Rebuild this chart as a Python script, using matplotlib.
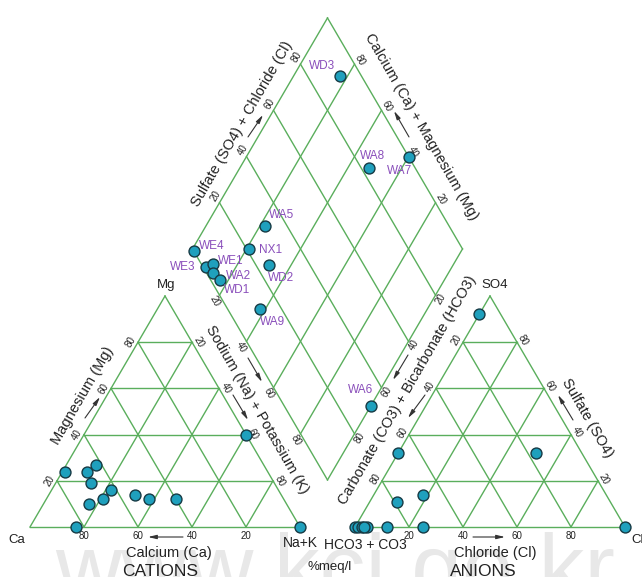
import numpy as np
import matplotlib.pyplot as plt

plt.rcParams['font.family'] = ['Liberation Sans', 'DejaVu Sans']

# sample chemistry, % meq/l
samples = ['WE4', 'WE3', 'WE1', 'WA2', 'WD1', 'NX1', 'WA5',
           'WD2', 'WA9', 'WA8', 'WD3', 'WA7', 'WA6']
ca = [75, 67, 62, 68, 73, 67, 62, 54, 50, 40, 83, 0, 0]
mg = [24, 24, 27, 19, 10, 12, 16, 14, 12, 12, 0, 40, 0]
na_k = [1, 9, 11, 13, 17, 21, 22, 32, 38, 48, 17, 60, 100]
so4 = [0, 0, 0, 0, 0, 11, 14, 0, 0, 32, 92, 0, 32]
cl = [0, 1, 4.5, 2.5, 3.5, 10, 18, 25, 12, 51, 0, 100, 0]
hco3 = [100, 99, 95.5, 97.5, 96.5, 79, 68, 75, 88, 17, 8, 0, 68]

# where each sample name sits relative to its point in the diamond (pixels)
label_offsets = {
    'WE4': (18, 5), 'WE3': (-23, 0), 'WE1': (17, 3), 'WA2': (25, -3),
    'WD1': (17, -10), 'NX1': (21, -1), 'WA5': (16, 11), 'WD2': (12, -13),
    'WA9': (13, -13), 'WA8': (3, 12), 'WD3': (-18, 10), 'WA7': (-9, -14),
    'WA6': (-10, 16),
}

ticks = [20, 40, 60, 80]

# layout in pixels (figure is 642 x 577 at 100 dpi)
X0, Y0 = 30, 50      # Ca corner
SX, SY = 270, 231    # triangle side and height
GAP = 55             # gap between the two triangles

LINE = '#5aae5c'
FILL = '#1fa0bd'
EDGE = '#163a44'
PURPLE = '#8a4fbb'
INK = '#222222'


def cat_xy(m, n):
    m, n = np.asarray(m) / 100, np.asarray(n) / 100
    return X0 + SX * (n + m / 2), Y0 + SY * m


def an_xy(s, c):
    s, c = np.asarray(s) / 100, np.asarray(c) / 100
    return X0 + SX + GAP + SX * (c + s / 2), Y0 + SY * s


BX, BY = X0 + SX + GAP / 2, Y0 + SY * GAP / SX   # bottom of the diamond


def dia_xy(s, c):
    s, c = np.asarray(s) / 100, np.asarray(c) / 100
    return BX + SX / 2 * (s - c), BY + SY * (s + c)


def seg(ax, p, q):
    ax.plot([p[0], q[0]], [p[1], q[1]], color=LINE, lw=1.0, zorder=1)


def tick(ax, p, text, off, rot=0):
    ax.text(p[0] + off[0], p[1] + off[1], text, ha='center', va='center',
            rotation=rot, rotation_mode='anchor', fontsize=7, color=INK)


def arrow(ax, p, start, end):
    ax.annotate('', xy=(p[0] + end[0], p[1] + end[1]),
                xytext=(p[0] + start[0], p[1] + start[1]),
                arrowprops=dict(arrowstyle='-|>,head_length=0.5,head_width=0.12',
                                color='#333333', lw=0.8, shrinkA=0, shrinkB=0))


def title(ax, p, text, off, rot=0, size=10.5):
    ax.text(p[0] + off[0], p[1] + off[1], text, ha='center', va='center',
            rotation=rot, rotation_mode='anchor', fontsize=size, color=INK)


fig = plt.figure(figsize=(6.42, 5.77), dpi=100)
ax = fig.add_axes([0, 0, 1, 1])
ax.set_xlim(0, 642)
ax.set_ylim(0, 577)
ax.axis('off')

# watermark
ax.text(335, -22, 'www.kci.go.kr', ha='center', va='baseline',
        fontsize=66, color='#e8e8e8', zorder=0)

# cation triangle
seg(ax, cat_xy(0, 0), cat_xy(0, 100))
seg(ax, cat_xy(0, 0), cat_xy(100, 0))
seg(ax, cat_xy(100, 0), cat_xy(0, 100))
for v in ticks:
    seg(ax, cat_xy(v, 0), cat_xy(v, 100 - v))
    seg(ax, cat_xy(0, v), cat_xy(100 - v, v))
    seg(ax, cat_xy(0, 100 - v), cat_xy(100 - v, 0))

# anion triangle
seg(ax, an_xy(0, 0), an_xy(0, 100))
seg(ax, an_xy(0, 0), an_xy(100, 0))
seg(ax, an_xy(100, 0), an_xy(0, 100))
for v in ticks:
    seg(ax, an_xy(v, 0), an_xy(v, 100 - v))
    seg(ax, an_xy(0, v), an_xy(100 - v, v))
    seg(ax, an_xy(0, 100 - v), an_xy(100 - v, 0))

# diamond
for v in [0] + ticks + [100]:
    seg(ax, dia_xy(v, 0), dia_xy(v, 100))
    seg(ax, dia_xy(0, v), dia_xy(100, v))

# tick labels
for v in ticks:
    tick(ax, cat_xy(0, 100 - v), str(v), (0, -9))
    tick(ax, cat_xy(v, 0), str(v), (-7, 0), 60)
    tick(ax, cat_xy(100 - v, v), str(v), (7, 0), -60)
    tick(ax, an_xy(0, v), str(v), (0, -9))
    tick(ax, an_xy(100 - v, 0), str(v), (-6, 2), 60)
    tick(ax, an_xy(v, 100 - v), str(v), (6, 2), -60)
    tick(ax, dia_xy(0, 100 - v), str(v), (-5, -6), -60)
    tick(ax, dia_xy(v, 100), str(v), (-4, 7), 60)
    tick(ax, dia_xy(100, v), str(v), (5, 4), -60)
    tick(ax, dia_xy(100 - v, 0), str(v), (5.5, -4), 60)

# corner labels
title(ax, cat_xy(0, 0), 'Ca', (-13, -13), size=9.5)
title(ax, cat_xy(100, 0), 'Mg', (1, 11), size=9.5)
title(ax, cat_xy(0, 100), 'Na+K', (0, -16), size=10)
title(ax, an_xy(100, 0), 'SO4', (5, 11), size=9.5)
corner_cl = an_xy(0, 100)
ax.text(corner_cl[0] + 6, corner_cl[1] - 13, 'Cl', ha='left', va='center',
        fontsize=9.5, color=INK)
title(ax, an_xy(0, 0), 'HCO3 + CO3', (10, -18), size=10)
title(ax, (BX, Y0), '%meq/l', (2.5, -40), size=9.5)

# axis titles with direction arrows
base_c = cat_xy(0, 50)
title(ax, base_c, 'Calcium (Ca)', (4, -26))
title(ax, base_c, 'CATIONS', (-5, -44), size=12.5)
arrow(ax, base_c, (18, -10), (-17, -10))

base_a = an_xy(0, 50)
title(ax, base_a, 'Chloride (Cl)', (5, -26))
title(ax, base_a, 'ANIONS', (-7, -44), size=12.5)
arrow(ax, base_a, (-17, -10), (15, -10))

left_c = cat_xy(50, 0)
title(ax, left_c, 'Magnesium (Mg)', (-14.5, 15.5), 60)
arrow(ax, left_c, (-12.5, -6.5), (2.5, 14.5))

right_c = cat_xy(50, 50)
title(ax, right_c, 'Sodium (Na) + Potassium (K)', (25, 1.5), -60)
arrow(ax, right_c, (15.5, 53.5), (29.5, 29.5))
arrow(ax, right_c, (0.5, 16.5), (15.5, -8.5))

left_a = an_xy(50, 0)
title(ax, left_a, 'Carbonate (CO3) + Bicarbonate (HCO3)', (-15.5, 21.5), 60)
arrow(ax, left_a, (-14.5, 56.5), (-29.5, 31.5))
arrow(ax, left_a, (2.5, 16.5), (-14.5, -6.5))

right_a = an_xy(50, 50)
title(ax, right_a, 'Sulfate (SO4)', (29.5, -6.5), -60)
arrow(ax, right_a, (15.5, -8.5), (0.5, 16.5))

upper_l = dia_xy(50, 100)
title(ax, upper_l, 'Sulfate (SO4) + Chloride (Cl)', (-17.5, 10), 60)
arrow(ax, upper_l, (-12, -3.5), (3, 18.5))

upper_r = dia_xy(100, 50)
title(ax, upper_r, 'Calcium (Ca) + Magnesium (Mg)', (26, 6.5), -60)
arrow(ax, upper_r, (14, -3.5), (-1, 22.5))

# samples
ca_mg = np.add(ca, mg)
so4_cl = np.add(so4, cl)
marker = dict(s=62, c=FILL, edgecolors=EDGE, linewidths=1.0, zorder=3)
ax.scatter(*cat_xy(mg, na_k), **marker)
ax.scatter(*an_xy(so4, cl), **marker)
dx, dy = dia_xy(so4_cl, ca_mg)
ax.scatter(dx, dy, **marker)
for name, x, y in zip(samples, dx, dy):
    ox, oy = label_offsets[name]
    ax.text(x + ox, y + oy, name, ha='center', va='center',
            fontsize=8.5, color=PURPLE, zorder=4)

fig.savefig('out.png', dpi=100)
